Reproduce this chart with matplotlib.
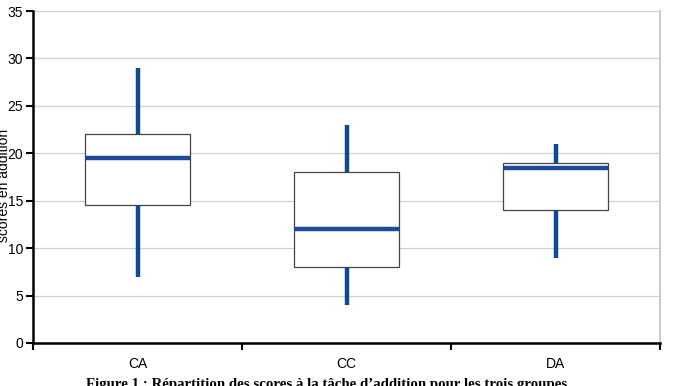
import matplotlib.pyplot as plt
from matplotlib.ticker import FixedLocator, NullFormatter, FixedFormatter

groups = ["CA", "CC", "DA"]
whis_lo = [7, 4, 9]
q1 = [14.5, 8, 14]
med = [19.5, 12, 18.5]
q3 = [22, 18, 19]
whis_hi = [29, 23, 21]

plt.rcParams['font.family'] = ['Liberation Sans', 'DejaVu Sans']

fig = plt.figure(figsize=(6.81, 3.86), dpi=100)
ax = fig.add_axes([33/681, 1 - 343/386, 627/681, 332/386])

stats = []
for i, g in enumerate(groups):
    stats.append(dict(label=g, whislo=whis_lo[i], q1=q1[i], med=med[i],
                      q3=q3[i], whishi=whis_hi[i], fliers=[]))

pos = [i + 0.5 for i in range(len(groups))]
blue = '#0d4a8e'
ax.bxp(stats, positions=pos, widths=0.5, showcaps=False, showfliers=False,
       patch_artist=True,
       boxprops=dict(facecolor='white', edgecolor='#444444', linewidth=0.9),
       whiskerprops=dict(color=blue, linewidth=3.2, solid_capstyle='butt'),
       medianprops=dict(color='#1f4a99', linewidth=3.2, solid_capstyle='butt'),
       zorder=3)

ax.set_xlim(0, 3)
ax.set_ylim(0, 35)
ax.set_yticks(range(0, 36, 5))
ax.yaxis.grid(True, color='#d0d0d0', linewidth=0.9)
ax.set_axisbelow(True)

ax.xaxis.set_major_locator(FixedLocator([0, 1, 2, 3]))
ax.xaxis.set_major_formatter(NullFormatter())
ax.xaxis.set_minor_locator(FixedLocator(pos))
ax.xaxis.set_minor_formatter(FixedFormatter(groups))
ax.tick_params(axis='x', which='minor', length=0, pad=10, labelsize=10)
ax.tick_params(axis='x', which='major', length=5, width=1.5, direction='out')
ax.tick_params(axis='y', length=5, width=1.5, direction='out', labelsize=10, pad=2)

ax.spines['top'].set_visible(False)
ax.spines['right'].set_color('#cccccc')
ax.spines['right'].set_linewidth(1.5)
ax.spines['left'].set_linewidth(1.8)
ax.spines['bottom'].set_linewidth(1.8)

fig.text(4/681, 0.5 + 8/386, 'scores en addition', rotation=90, va='center', ha='center', fontsize=10)
fig.text(327/681, 1 - 378/386, "Figure 1 : Répartition des scores à la tâche d\u2019addition pour les trois groupes",
         ha='center', va='top', fontsize=10.7, fontweight='bold', family=['Liberation Serif', 'DejaVu Serif'])

fig.savefig('out.png', dpi=100)
